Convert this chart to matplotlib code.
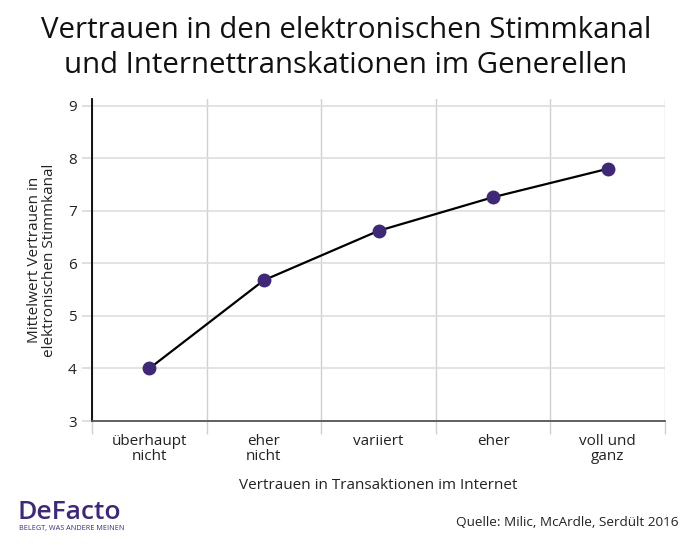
import matplotlib.pyplot as plt
from matplotlib.ticker import FixedLocator

# Daten
kategorien = ["überhaupt\nnicht", "eher\nnicht", "variiert", "eher", "voll und\nganz"]
mittelwerte = [4.0, 5.68, 6.62, 7.26, 7.80]
y_ticks = [3, 4, 5, 6, 7, 8, 9]

plt.rcParams['font.family'] = ['Open Sans', 'DejaVu Sans']

fig = plt.figure(figsize=(6.92, 5.45), dpi=100)
ax = fig.add_axes([0.133, 0.2275, 0.828, 0.590])

x = list(range(len(kategorien)))
ax.plot(x, mittelwerte, color='black', lw=1.6, zorder=3)
ax.plot(x, mittelwerte, 'o', color='#3f2875', ms=9, zorder=4)

ax.set_xlim(-0.5, len(kategorien) - 0.5)
ax.set_ylim(3, 9.12)
ax.set_yticks(y_ticks)
ax.set_xticks(x)
ax.set_xticklabels(kategorien, fontsize=11, color='#222222', linespacing=1.05)
ax.xaxis.set_minor_locator(FixedLocator([i + 0.5 for i in range(-1, len(kategorien))]))
ax.tick_params(axis='x', which='major', length=0, pad=9)
ax.tick_params(axis='x', which='minor', length=9, color='#d0d0d0', width=1)
ax.tick_params(axis='y', length=7, color='#d9d9d9', width=1.2, labelsize=11,
               labelcolor='#222222', pad=4)

ax.grid(axis='y', color='#dedede', lw=1.2)
ax.grid(axis='x', which='minor', color='#d0d0d0', lw=1)
ax.set_axisbelow(True)

for s in ['top', 'right']:
    ax.spines[s].set_visible(False)
ax.spines['left'].set_color('black')
ax.spines['left'].set_linewidth(1.3)
ax.spines['bottom'].set_color('#555555')
ax.spines['bottom'].set_linewidth(1.3)

ax.set_xlabel("Vertrauen in Transaktionen im Internet", fontsize=11,
              color='#222222', labelpad=10)
ax.set_ylabel("Mittelwert Vertrauen in\nelektronischen Stimmkanal", fontsize=11,
              color='#222222', labelpad=8, linespacing=1.0)

fig.text(0.5, 0.912, "Vertrauen in den elektronischen Stimmkanal\nund Internettranskationen im Generellen",
         ha='center', va='center', fontsize=21.2, color='#111111', linespacing=1.25)

# Logo
fig.text(0.025, 0.047, "DeFacto", fontsize=19, fontweight='semibold', color='#3f2875',
         ha='left', va='baseline')
fig.text(0.027, 0.027, "BELEGT, WAS ANDERE MEINEN", fontsize=5.2, color='#3f2875',
         ha='left', va='baseline')

fig.text(0.98, 0.035, "Quelle: Milic, McArdle, Serdült 2016", fontsize=9.7,
         color='#222222', ha='right', va='baseline')

fig.savefig('out.png', dpi=100)
